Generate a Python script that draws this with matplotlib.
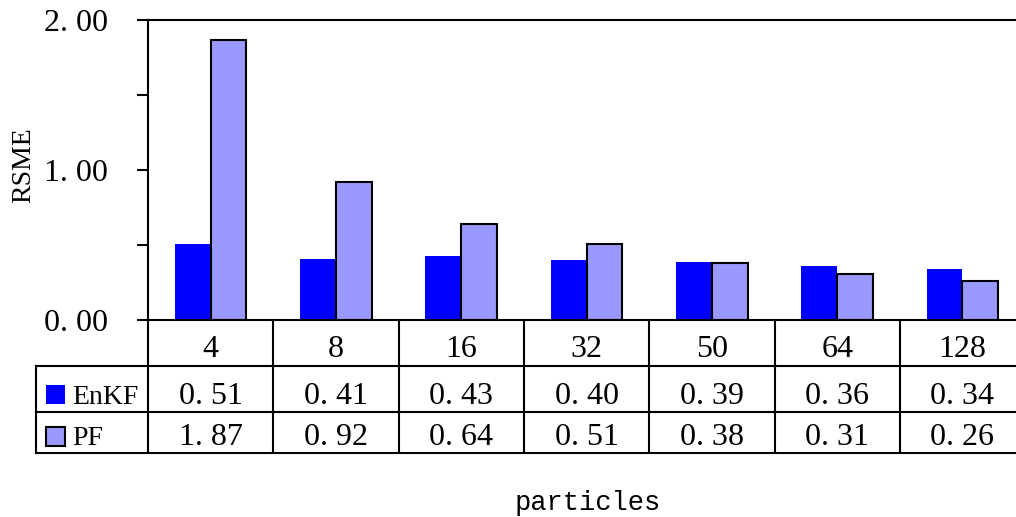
import matplotlib.pyplot as plt
from matplotlib.patches import Rectangle
import numpy as np

# Data
particles = ['4', '8', '16', '32', '50', '64', '128']
enkf = [0.51, 0.41, 0.43, 0.40, 0.39, 0.36, 0.34]
pf = [1.87, 0.92, 0.64, 0.51, 0.38, 0.31, 0.26]
series_names = ['EnKF', 'PF']
series_values = [enkf, pf]
series_colors = ['#0000FF', '#9999FF']
yticks = [0.0, 1.0, 2.0]
yticks_minor = [0.5, 1.5]


def fmt(v):
    # wide decimal point, as in the original worksheet font
    return f'{v:.2f}'.replace('.', '. ')


SERIF = 'Liberation Serif'
MONO = 'Liberation Mono'
FS = 23

W, H = 1016, 517
fig = plt.figure(figsize=(W / 100, H / 100), dpi=100)

# layout (pixels)
plot_left, plot_top, plot_bottom = 148, 20, 320
col_w = 125.3
n = len(particles)
table_left = 36
row_edges = [320, 366, 412, 453]
plot_right = plot_left + n * col_w

ax = fig.add_axes([plot_left / W, (H - plot_bottom) / H,
                   n * col_w / W, (plot_bottom - plot_top) / H])
x = np.arange(n) + 0.5
bw = 1 / 3.5
ax.bar(x - bw / 2, enkf, bw, color=series_colors[0], linewidth=0, zorder=2)
ax.bar(x + bw / 2, pf, bw, color=series_colors[1], edgecolor='black',
       linewidth=1.5, zorder=2)
ax.set_xlim(0, n)
ax.set_ylim(0, 2)
ax.set_xticks([])
ax.set_yticks(yticks)
ax.set_yticklabels([fmt(v) for v in yticks], fontfamily=SERIF, fontsize=FS)
ax.set_yticks(yticks_minor, minor=True)
ax.tick_params(axis='y', which='both', direction='out', length=8,
               width=1.5, pad=21, colors='black')
ax.spines['right'].set_visible(False)
for s in ('top', 'left', 'bottom'):
    ax.spines[s].set_linewidth(1.5)
ax.spines['bottom'].set_zorder(3)

# data table beneath the plot, drawn in pixel coordinates
tab = fig.add_axes([0, 0, 1, 1], zorder=5)
tab.set_xlim(0, W)
tab.set_ylim(H, 0)
tab.axis('off')
lw = 1.5
for k in range(n + 1):
    xx = plot_left + k * col_w
    tab.plot([xx, xx], [row_edges[0], row_edges[-1]], color='black', lw=lw,
             clip_on=False, solid_capstyle='projecting')
tab.plot([table_left, table_left], [row_edges[1], row_edges[-1]],
         color='black', lw=lw, clip_on=False, solid_capstyle='projecting')
for yy in row_edges[1:]:
    tab.plot([table_left, plot_right], [yy, yy], color='black', lw=lw,
             clip_on=False, solid_capstyle='projecting')

# category row
for i, p in enumerate(particles):
    tab.text(plot_left + (i + 0.5) * col_w, row_edges[1] - 9, p,
             ha='center', va='baseline', fontfamily=SERIF, fontsize=FS)

# series rows
key_tops = [385, 427]
for r, (name, vals, col) in enumerate(zip(series_names, series_values,
                                          series_colors)):
    base = row_edges[r + 2] - 8
    for i, v in enumerate(vals):
        tab.text(plot_left + (i + 0.5) * col_w, base, fmt(v),
                 ha='center', va='baseline', fontfamily=SERIF, fontsize=FS)
    ec = 'none' if r == 0 else 'black'
    tab.add_patch(Rectangle((46, key_tops[r]), 19, 19, facecolor=col,
                            edgecolor=ec, linewidth=1.5))
    tab.text(72, base, name, ha='left', va='baseline',
             fontfamily=SERIF, fontsize=20)

fig.text(24 / W, 1 - 165 / H, 'RSME', rotation=90, ha='center',
         va='center', fontfamily=SERIF, fontsize=20)
fig.text(588 / W, 1 - 503 / H, 'particles', ha='center', va='center',
         fontfamily=MONO, fontsize=19.5)

fig.savefig('out.png', dpi=100)
